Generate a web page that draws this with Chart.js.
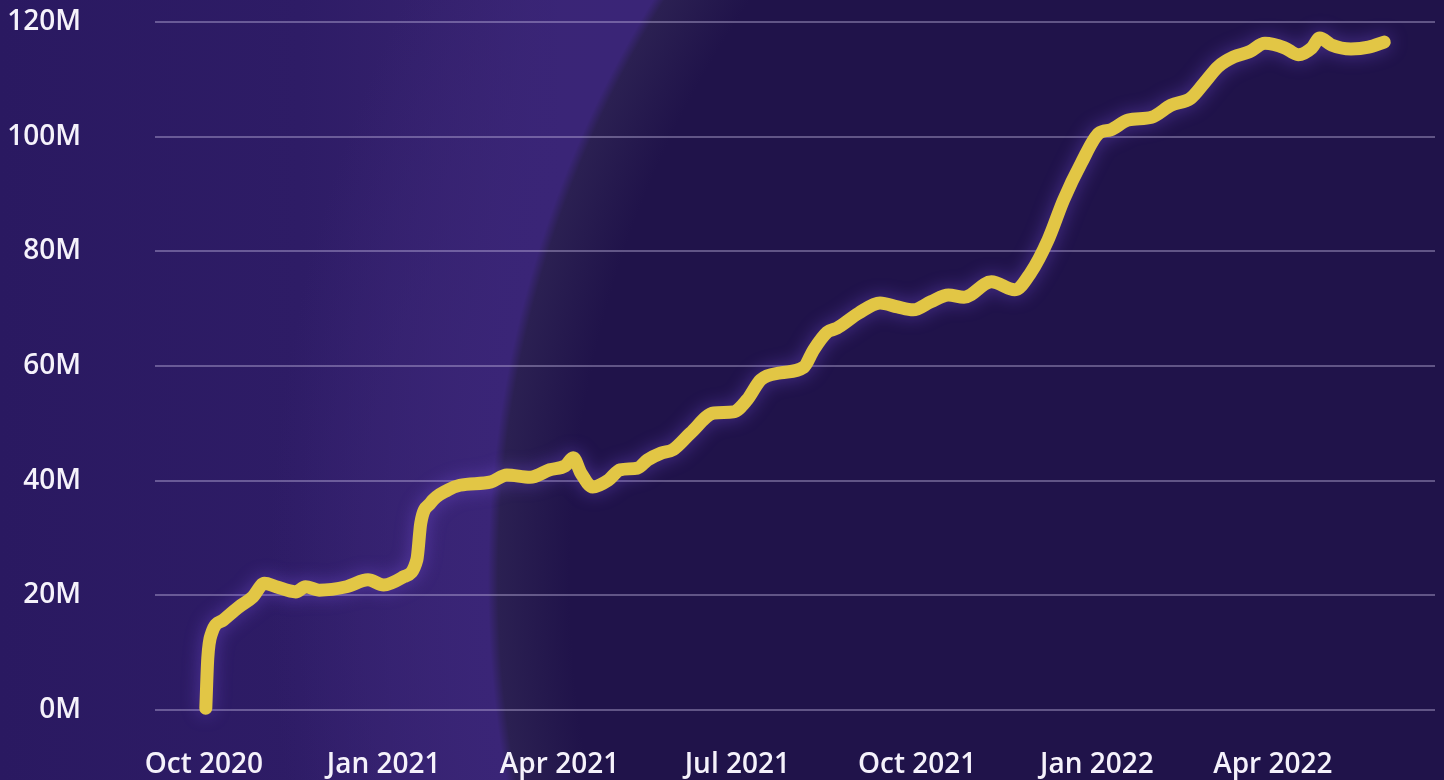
<!DOCTYPE html>
<html lang="en">
<head>
<meta charset="utf-8">
<title>Growth chart</title>
<script src="https://cdn.jsdelivr.net/npm/chart.js@4.4.1/dist/chart.umd.min.js"></script>
<style>
  html, body {
    margin: 0;
    padding: 0;
    width: 1444px;
    height: 780px;
    overflow: hidden;
  }
  body {
    background:
      radial-gradient(circle 1100px at 1590px 580px, #20134a 0px, #20134a 1020px, #2b2052 1092px, #3a2577 1102px, rgba(58, 37, 119, 0) 1320px),
      linear-gradient(90deg, #2a1961 0px, #2e1c66 300px, #36226f 480px, #3a2576 560px);
  }
  #chart {
    display: block;
  }
</style>
</head>
<body>
<canvas id="chart" width="1444" height="780"></canvas>
<script>
const startDate = "2020-10-01";

const dates = [
  "2020-10-02", "2020-10-03", "2020-10-05", "2020-10-11", "2020-10-19", "2020-10-26",
  "2020-11-01", "2020-11-07", "2020-11-17", "2020-11-22", "2020-11-29", "2020-12-13",
  "2020-12-24", "2021-01-01", "2021-01-11", "2021-01-18", "2021-01-20", "2021-01-25",
  "2021-02-03", "2021-02-09", "2021-02-25", "2021-03-05", "2021-03-17", "2021-03-27",
  "2021-04-04", "2021-04-08", "2021-04-12", "2021-04-18", "2021-04-26", "2021-05-02",
  "2021-05-11", "2021-05-16", "2021-05-23", "2021-05-29", "2021-06-07", "2021-06-19",
  "2021-06-29", "2021-07-06", "2021-07-13", "2021-07-23", "2021-08-04", "2021-08-09",
  "2021-08-16", "2021-08-21", "2021-09-01", "2021-09-12", "2021-09-21", "2021-09-29",
  "2021-10-08", "2021-10-17", "2021-10-25", "2021-11-08", "2021-11-20", "2021-11-28",
  "2021-12-07", "2021-12-15", "2021-12-24", "2022-01-02", "2022-01-08", "2022-01-17",
  "2022-01-29", "2022-02-08", "2022-02-18", "2022-02-25", "2022-03-04", "2022-03-12",
  "2022-03-20", "2022-03-28", "2022-04-07", "2022-04-14", "2022-04-21", "2022-04-25",
  "2022-05-01", "2022-05-11", "2022-05-20", "2022-05-28"
];

// values in millions
const totals = [
  0.3, 9, 13.4, 15.7, 18, 19.7,
  22.1, 21.5, 20.6, 21.5, 20.9, 21.5,
  22.7, 21.8, 23.2, 26.2, 32.6, 36.1,
  38.4, 39.2, 39.8, 41, 40.6, 41.9,
  42.6, 44, 41.3, 38.9, 40.1, 41.9,
  42.2, 43.6, 44.8, 45.4, 48.3, 51.8,
  52, 54.1, 57.6, 58.8, 59.8, 62.8,
  65.9, 66.6, 69.2, 71, 70.3, 69.8,
  71.2, 72.4, 72, 74.7, 73.3, 76.2,
  82, 89, 95.4, 100.6, 101.2, 102.9,
  103.4, 105.5, 106.7, 109.4, 112.2, 113.9,
  114.8, 116.3, 115.5, 114.3, 115.5, 117.2,
  116, 115.3, 115.6, 116.5
];

const tickDates = ["2020-10-01", "2021-01-01", "2021-04-01", "2021-07-01", "2021-10-01", "2022-01-01", "2022-04-01"];
const tickLabels = ["Oct 2020", "Jan 2021", "Apr 2021", "Jul 2021", "Oct 2021", "Jan 2022", "Apr 2022"];

const axisStart = "2020-09-06";
const axisEnd = "2022-06-23";

function dayNumber(dateString) {
  const [y, m, d] = dateString.split("-").map(Number);
  const [sy, sm, sd] = startDate.split("-").map(Number);
  return (Date.UTC(y, m - 1, d) - Date.UTC(sy, sm - 1, sd)) / 86400000;
}

const tickDays = tickDates.map(dayNumber);
const points = dates.map((date, i) => ({ x: dayNumber(date), y: totals[i] }));

const glowPlugin = {
  id: "glow",
  beforeDatasetsDraw(chart) {
    const ctx = chart.ctx;
    ctx.save();
    ctx.shadowColor = "rgba(130, 90, 235, 0.45)";
    ctx.shadowBlur = 18;
  },
  afterDatasetsDraw(chart) {
    chart.ctx.restore();
  }
};

const font = { family: "'Open Sans', 'Noto Sans', sans-serif", size: 28, weight: "600" };

new Chart(document.getElementById("chart"), {
  type: "line",
  data: {
    datasets: [
      {
        label: "Total",
        data: points,
        borderColor: "#e2c645",
        borderWidth: 13,
        borderCapStyle: "round",
        borderJoinStyle: "round",
        pointRadius: 0,
        cubicInterpolationMode: "monotone",
        clip: false,
        fill: false
      }
    ]
  },
  options: {
    responsive: false,
    animation: false,
    layout: { padding: { top: 22, right: 9, left: 0, bottom: 0 } },
    plugins: {
      legend: { display: false },
      tooltip: { enabled: false }
    },
    scales: {
      x: {
        type: "linear",
        min: dayNumber(axisStart),
        max: dayNumber(axisEnd),
        grid: { display: false },
        border: { display: false },
        afterBuildTicks: (scale) => {
          scale.ticks = tickDays.map((value) => ({ value }));
        },
        afterFit: (scale) => {
          scale.height = 70;
          scale.paddingLeft = 0;
          scale.paddingRight = 0;
        },
        ticks: {
          color: "#f5f2fb",
          font,
          padding: 30,
          maxRotation: 0,
          autoSkip: false,
          callback: (value) => tickLabels[tickDays.indexOf(value)] || ""
        }
      },
      y: {
        min: 0,
        max: 120,
        grid: {
          color: "rgba(205, 195, 235, 0.38)",
          lineWidth: 2,
          drawTicks: false
        },
        border: { display: false },
        afterFit: (scale) => {
          scale.width = 155;
          scale.paddingTop = 0;
          scale.paddingBottom = 0;
        },
        ticks: {
          stepSize: 20,
          color: "#f5f2fb",
          font,
          padding: 74,
          callback: (value) => `${value}M`
        }
      }
    }
  },
  plugins: [glowPlugin]
});
</script>
</body>
</html>
